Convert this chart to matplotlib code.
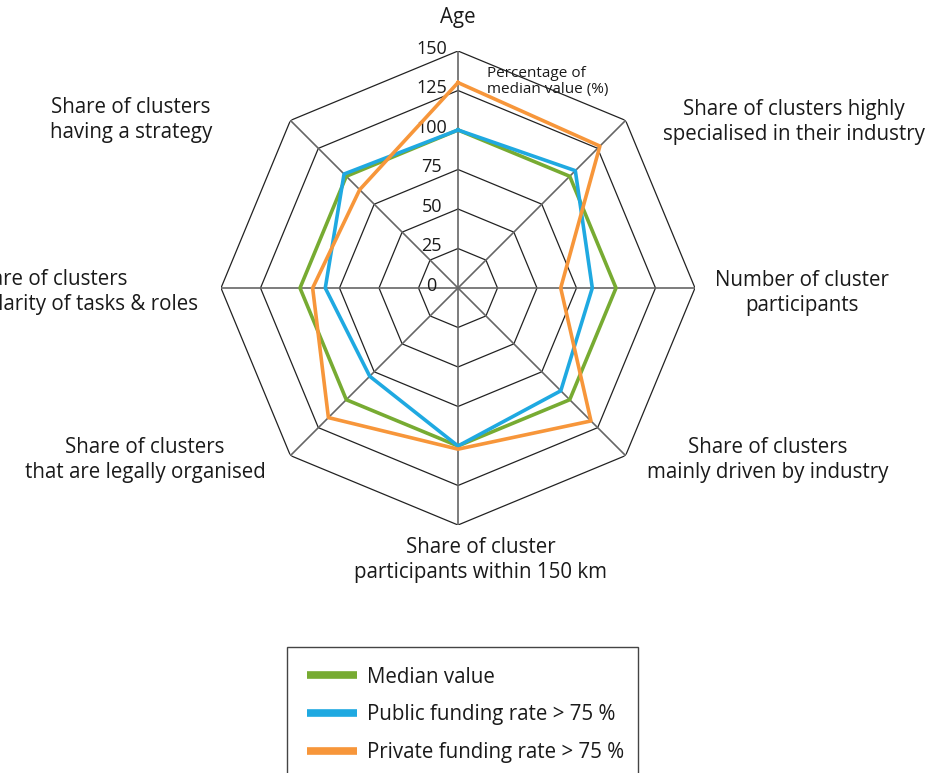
import matplotlib.pyplot as plt
import numpy as np
from matplotlib.lines import Line2D

plt.rcParams['font.family'] = ['Open Sans', 'DejaVu Sans']

categories = ['Age',
              'Share of clusters highly\nspecialised in their industry',
              'Number of cluster\nparticipants',
              'Share of clusters\nmainly driven by industry',
              'Share of cluster\nparticipants within 150 km',
              'Share of clusters\nthat are legally organised',
              'Share of clusters\nwith clarity of tasks & roles',
              'Share of clusters\nhaving a strategy']
median = [100, 100, 100, 100, 100, 100, 100, 100]
public = [100, 105, 85, 92, 100, 79, 84, 102]
private = [130, 127, 65, 119, 102, 116, 92, 88]
ticks = [0, 25, 50, 75, 100, 125, 150]
series_names = ['Median value', 'Public funding rate > 75 %', 'Private funding rate > 75 %']
colors = ['#77ab32', '#1fa9e1', '#f7963a']

W, H = 928, 773
fig = plt.figure(figsize=(W/100, H/100), dpi=100)
cx, cy, R = 458, 288, 237
ax = fig.add_axes([(cx-R)/W, 1-(cy+R)/H, 2*R/W, 2*R/H], projection='polar')
ax.set_theta_zero_location('N')
ax.set_theta_direction(-1)
ax.set_ylim(0, 150)
ax.grid(False)
ax.set_xticks([])
ax.set_yticks([])
ax.spines['polar'].set_visible(False)
ax.patch.set_alpha(0)

n = len(categories)
ang = np.linspace(0, 2*np.pi, n, endpoint=False)
ang_c = np.append(ang, ang[0])

# octagon rings
for r in ticks[1:]:
    ax.plot(ang_c, [r]*(n+1), color='#222222', lw=0.9, zorder=1)
# spokes
for a in ang:
    ax.plot([a, a], [0, 150], color='#666666', lw=1.2, zorder=1)

for vals, c, z in zip([median, public, private], colors, [3, 4, 5]):
    ax.plot(ang_c, vals + vals[:1], color=c, lw=2.6, zorder=z)

for t in ticks:
    ax.annotate(str(t), xy=(0, t), xytext=(-19, 1.5), textcoords='offset points',
                ha='center', va='center', fontsize=13, color='#1a1a1a')

ax.annotate('Percentage of\nmedian value (%)', xy=(0, 150), xytext=(21, -11),
            textcoords='offset points', ha='left', va='top', fontsize=11,
            color='#1a1a1a', linespacing=1.05)

# category labels (pixel positions)
lab_pos = [(458, 18), (794, 122), (802, 293), (768, 460),
           (481, 560), (145, 460), None, (131, 120)]
for lab, p in zip(categories, lab_pos):
    if p is None:
        continue
    fig.text(p[0]/W, 1-p[1]/H, lab, ha='center', va='center', fontsize=14.8,
             color='#1a1a1a', linespacing=1.22, multialignment='center')
# the left label is cut by the page edge, as in the original
l1, l2 = categories[6].split('\n')
fig.text(127/W, 1-280/H, l1, ha='right', va='center', fontsize=14.8, color='#1a1a1a')
fig.text(198/W, 1-305/H, l2, ha='right', va='center', fontsize=14.8, color='#1a1a1a')

handles = [Line2D([], [], color=c, lw=5.5, solid_capstyle='butt') for c in colors]
leg = fig.legend(handles, series_names, loc='upper left',
                 bbox_to_anchor=(287/W, 1-647/H, 351/W, 0), mode='expand',
                 borderaxespad=0, fontsize=14.8, handlelength=2.45,
                 handletextpad=0.48, labelspacing=0.82, borderpad=0.95,
                 fancybox=False, framealpha=1)
leg.get_frame().set_edgecolor('#444444')
leg.get_frame().set_linewidth(1.0)
for txt in leg.get_texts():
    txt.set_color('#1a1a1a')

fig.savefig('out.png', dpi=100)
